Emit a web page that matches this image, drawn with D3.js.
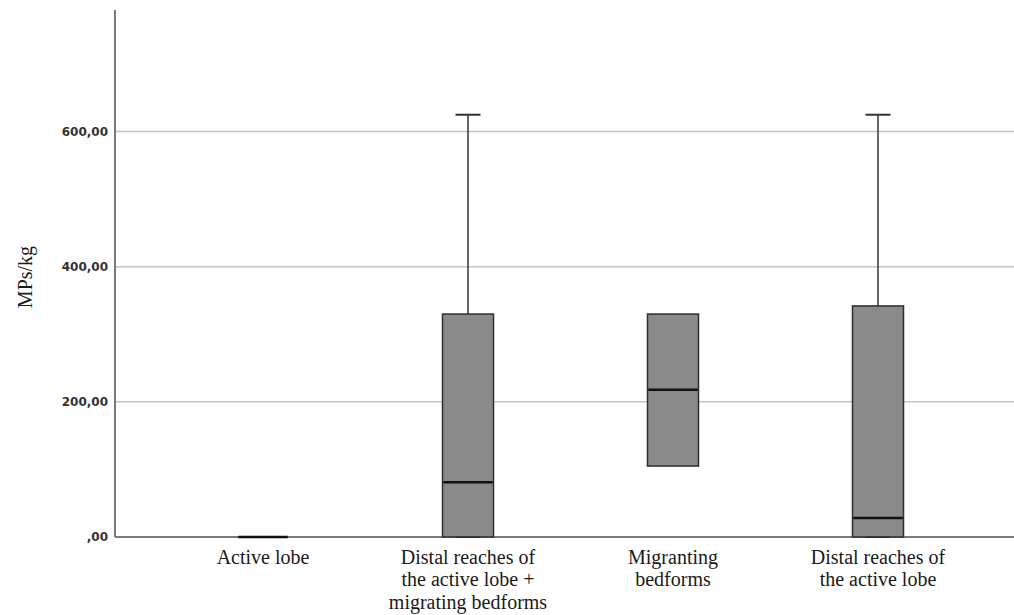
<!DOCTYPE html>
<html>
<head>
<meta charset="utf-8">
<script src="https://cdn.jsdelivr.net/npm/d3@7"></script>
<style>
  html, body { margin: 0; padding: 0; background: #fff; }
  svg { display: block; }
</style>
</head>
<body>
<svg id="chart" width="1014" height="615"></svg>
<script>
// Box-plot summaries of microplastic concentration per sampling zone
const categories = [
  ["Active lobe"],
  ["Distal reaches of", "the active lobe +", "migrating bedforms"],
  ["Migranting", "bedforms"],
  ["Distal reaches of", "the active lobe"]
];
const whiskerLow  = [0, 0, 105, 0];
const q1          = [0, 0, 105, 0];
const median      = [0, 81, 218, 28];
const q3          = [0, 330, 330, 342];
const whiskerHigh = [0, 625, 330, 625];
const yTicks = [0, 200, 400, 600];

(function () {
const svg = d3.select("#chart");
const width = 1014;
const plotLeft = 115, plotTop = 10, plotBottom = 537;

const y = d3.scaleLinear().domain([0, 780]).range([plotBottom, plotTop]);
const x = d3.scalePoint().domain(d3.range(categories.length)).range([263, 878]);
const boxW = 51, capW = 25;

const fmt = v => v === 0 ? ",00" : d3.format(".2f")(v).replace(".", ",");

// horizontal grid lines
svg.append("g").selectAll("line").data(yTicks.filter(d => d > 0)).join("line")
  .attr("x1", plotLeft).attr("x2", width)
  .attr("y1", d => y(d)).attr("y2", d => y(d))
  .attr("stroke", "#c4c4c4").attr("stroke-width", 1.5);

// y axis
const yAxis = svg.append("g").attr("transform", `translate(${plotLeft},0)`)
  .call(d3.axisLeft(y).tickValues(yTicks).tickFormat(fmt).tickSize(0).tickPadding(7));
yAxis.select(".domain").remove();
yAxis.selectAll("text")
  .attr("font-family", "'DejaVu Sans', Verdana, sans-serif")
  .attr("font-size", 12).attr("font-weight", "bold").attr("fill", "#333");

svg.append("line").attr("x1", plotLeft).attr("x2", plotLeft).attr("y1", plotTop).attr("y2", plotBottom)
  .attr("stroke", "#7a7a7a").attr("stroke-width", 2);
svg.append("line").attr("x1", plotLeft).attr("x2", width).attr("y1", plotBottom).attr("y2", plotBottom)
  .attr("stroke", "#7a7a7a").attr("stroke-width", 2);

svg.append("text")
  .attr("transform", "translate(32,277) rotate(-90)")
  .attr("text-anchor", "middle")
  .attr("font-family", "'Liberation Serif', 'Times New Roman', serif")
  .attr("font-size", 20).attr("fill", "#1a1a1a")
  .text("MPs/kg");

// boxes
const g = svg.append("g").selectAll("g").data(d3.range(categories.length)).join("g");

g.filter(i => whiskerHigh[i] > q3[i]).append("line")
  .attr("x1", i => x(i)).attr("x2", i => x(i))
  .attr("y1", i => y(whiskerHigh[i])).attr("y2", i => y(q3[i]))
  .attr("stroke", "#333").attr("stroke-width", 1.5);
g.filter(i => whiskerHigh[i] > q3[i]).append("line")
  .attr("x1", i => x(i) - capW / 2).attr("x2", i => x(i) + capW / 2)
  .attr("y1", i => y(whiskerHigh[i])).attr("y2", i => y(whiskerHigh[i]))
  .attr("stroke", "#333").attr("stroke-width", 2);

g.filter(i => q3[i] > q1[i]).append("rect")
  .attr("x", i => x(i) - boxW / 2).attr("width", boxW)
  .attr("y", i => y(q3[i])).attr("height", i => y(q1[i]) - y(q3[i]))
  .attr("fill", "#8a8a8a").attr("stroke", "#2e2e2e").attr("stroke-width", 1.5);

g.filter(i => q1[i] > whiskerLow[i] || q1[i] === 0).append("line")
  .attr("x1", i => x(i) - capW / 2).attr("x2", i => x(i) + capW / 2)
  .attr("y1", i => y(whiskerLow[i])).attr("y2", i => y(whiskerLow[i]))
  .attr("stroke", "#333").attr("stroke-width", 2);

g.append("line")
  .attr("x1", i => x(i) - boxW / 2 + 0.75).attr("x2", i => x(i) + boxW / 2 - 0.75)
  .attr("y1", i => y(median[i])).attr("y2", i => y(median[i]))
  .attr("stroke", "#111").attr("stroke-width", 2.5);

// category labels
const lab = svg.append("g").selectAll("text").data(d3.range(categories.length)).join("text")
  .attr("x", i => x(i)).attr("y", 564)
  .attr("text-anchor", "middle")
  .attr("font-family", "'Liberation Serif', 'Times New Roman', serif")
  .attr("font-size", 20).attr("fill", "#1a1a1a");
lab.selectAll("tspan").data(i => categories[i]).join("tspan")
  .attr("x", function () { return d3.select(this.parentNode).attr("x"); })
  .attr("dy", (d, j) => j === 0 ? 0 : 22.4)
  .text(d => d);
})();
</script>
</body>
</html>
